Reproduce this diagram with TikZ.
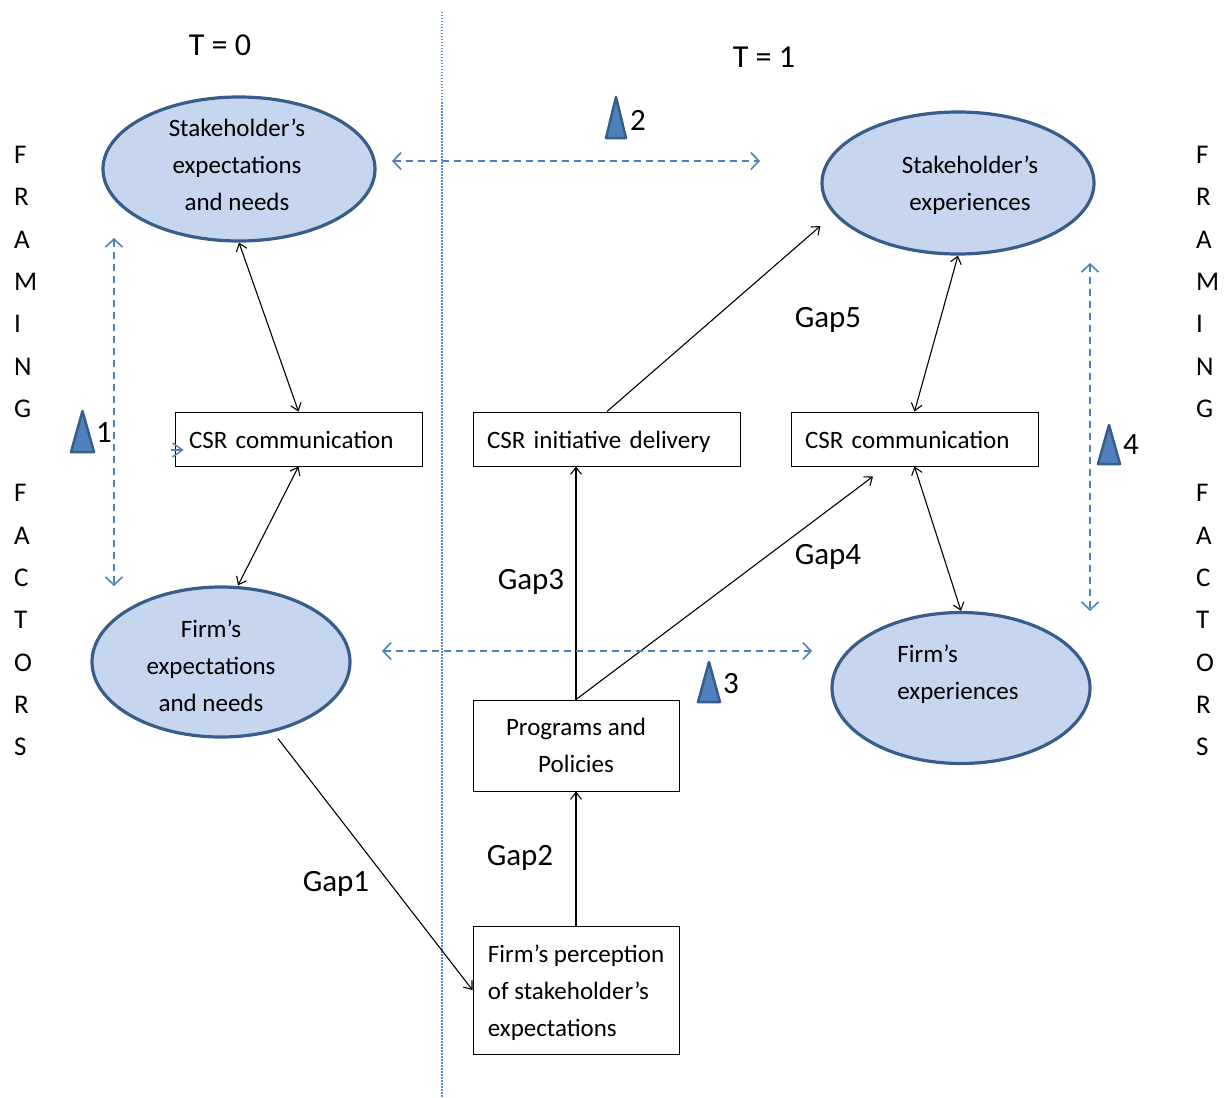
\documentclass[tikz,border=0pt]{standalone}
\usepackage{fontspec}
\setmainfont{Carlito}
\usetikzlibrary{shapes.geometric,arrows.meta}
\definecolor{ellfill}{RGB}{198,214,238}
\definecolor{elldraw}{RGB}{56,93,138}
\definecolor{dashblue}{RGB}{79,129,189}
\definecolor{dotblue}{RGB}{91,140,210}
\tikzset{
  ell/.style={ellipse,draw=elldraw,fill=ellfill,line width=3.2pt,inner sep=0pt},
  etext/.style={align=center,font=\fontsize{25}{37}\selectfont,inner sep=0pt},
  box/.style={draw,line width=1pt,minimum height=54pt,inner xsep=14pt,inner ysep=0pt,align=left,text height=21pt,text depth=3pt,font=\fontsize{25}{37}\selectfont},
  conn/.style={line width=1.1pt,-{Straight Barb[length=7pt,width=11pt]}},
  dconn/.style={line width=1.1pt,{Straight Barb[length=7pt,width=11pt]}-{Straight Barb[length=7pt,width=11pt]}},
  bluedash/.style={dashblue,line width=1.6pt,dash pattern=on 7pt off 5pt,{Straight Barb[length=8pt,width=17pt]}-{Straight Barb[length=8pt,width=17pt]}},
  gaplabel/.style={font=\fontsize{31}{37}\selectfont,inner sep=0pt},
  tri/.style={fill=dashblue,draw=elldraw,line width=2.5pt,line join=round},
  vlet/.style={align=left,font=\fontsize{27}{42.3}\selectfont,inner sep=0pt,anchor=north west}
}
\begin{document}
\begin{tikzpicture}[x=1pt,y=-1pt]
\useasboundingbox (0,0) rectangle (1230,1097);
% dotted divider
\draw[dotblue,line width=1.2pt,dash pattern=on 1.5pt off 1.5pt] (442,12) -- (442,1097);
% time labels
\node[gaplabel,font=\fontsize{32}{37}\selectfont] (t0) at (220,45) {T = 0};
\node[gaplabel,font=\fontsize{32}{37}\selectfont] (t1) at (764,57) {T = 1};
% ellipses
\node[ell,minimum width=272pt,minimum height=144pt] (e1) at (239,169) {};
\node[etext] (e1t) at (237,165) {Stakeholder’s\\expectations\\and needs};
\node[ell,minimum width=272pt,minimum height=142pt] (e2) at (958,183) {};
\node[etext] (e2t) at (970,185) {Stakeholder’s\\experiences};
\node[ell,minimum width=258pt,minimum height=150pt] (e3) at (221,662) {};
\node[etext] (e3t) at (211,666) {Firm’s\\expectations\\and needs};
\node[ell,minimum width=258pt,minimum height=151pt] (e4) at (961,688) {};
\node[etext,align=left] (e4t) at (958,674) {Firm’s\\experiences};
% boxes
\node[box,text width=219pt] (c1) at (298.5,439) {CSR communication};
\node[box,text width=239pt] (c2) at (606.5,439) {CSR initiative delivery};
\node[box,text width=219pt] (c3) at (914.5,439) {CSR communication};
\node[box,inner xsep=0pt,text height=,text depth=,align=center,minimum width=206pt,minimum height=91pt] (b4) at (576,745.5) {Programs and\\Policies};
\node[box,inner xsep=0pt,text height=,text depth=,minimum width=206pt,minimum height=128pt] (b5) at (576,990) {\rule{0pt}{22pt}Firm’s perception\\of stakeholder’s\\expectations};
% connectors
\draw[dconn] (e1.south) -- (c1.north);
\draw[dconn] (c1.south) -- ([xshift=17pt]e3.north);
\draw[conn] ([xshift=57pt]e3.south) -- (b5.west);
\draw[conn] (b5.north) -- (b4.south);
\draw[conn] (b4.north) -- (b4.north |- c2.south);
\draw[conn] (b4.north) -- ([xshift=-41.5pt,yshift=-10pt]c3.south);
\draw[conn] ([xshift=0.5pt]c2.north) -- ([yshift=-43pt]e2.west);
\draw[dconn] (e2.south) -- (c3.north);
\draw[dconn] (c3.south) -- (e4.north);
% dashed blue double arrows
\coordinate (d1a) at (114,238); \coordinate (d1b) at (114,586);
\coordinate (d2a) at (392,161); \coordinate (d2b) at (760,161);
\coordinate (d3a) at (382,651); \coordinate (d3b) at (812,651);
\coordinate (d4a) at (1090,263); \coordinate (d4b) at (1090,611);
\draw[bluedash] (d1a) -- (d1b);
\draw[bluedash] (d2a) -- (d2b);
\draw[bluedash] (d3a) -- (d3b);
\draw[bluedash] (d4a) -- (d4b);
% small stray arrow tip at left CSR box
\draw[dashblue,line width=1.5pt] ([xshift=-2pt,yshift=-4pt]c1.west) -- ([xshift=8pt,yshift=-11pt]c1.west) -- ([xshift=-2pt,yshift=-18pt]c1.west);
\draw[dashblue,line width=1.5pt] ([xshift=-4pt,yshift=-11pt]c1.west) -- ([xshift=7pt,yshift=-11pt]c1.west);
% triangles with numbers
\draw[tri] (71,452) -- (82.5,411) -- (94,452) -- cycle;
\node[gaplabel] (n1) at (104,433) {1};
\draw[tri] (606,138) -- (616,97) -- (626,138) -- cycle;
\node[gaplabel] (n2) at (638,120) {2};
\draw[tri] (698,702) -- (709,662) -- (720,702) -- cycle;
\node[gaplabel] (n3) at (731,684) {3};
\draw[tri] (1098,464) -- (1109,425) -- (1120,464) -- cycle;
\node[gaplabel] (n4) at (1131,445) {4};
% gap labels
\node[gaplabel] (g5) at (828,320) {Gap5};
\node[gaplabel] (g3) at (531,582) {Gap3};
\node[gaplabel] (g4) at (828,557) {Gap4};
\node[gaplabel] (g2) at (520,858) {Gap2};
\node[gaplabel] (g1) at (336,884) {Gap1};
% framing factors
\node[vlet] (ffl) at (14,146) {F\\R\\A\\M\\I\\N\\G\\[42.3pt]F\\A\\C\\T\\O\\R\\S};
\node[vlet] (ffr) at (1196,146) {F\\R\\A\\M\\I\\N\\G\\[42.3pt]F\\A\\C\\T\\O\\R\\S};
\end{tikzpicture}
\end{document}
